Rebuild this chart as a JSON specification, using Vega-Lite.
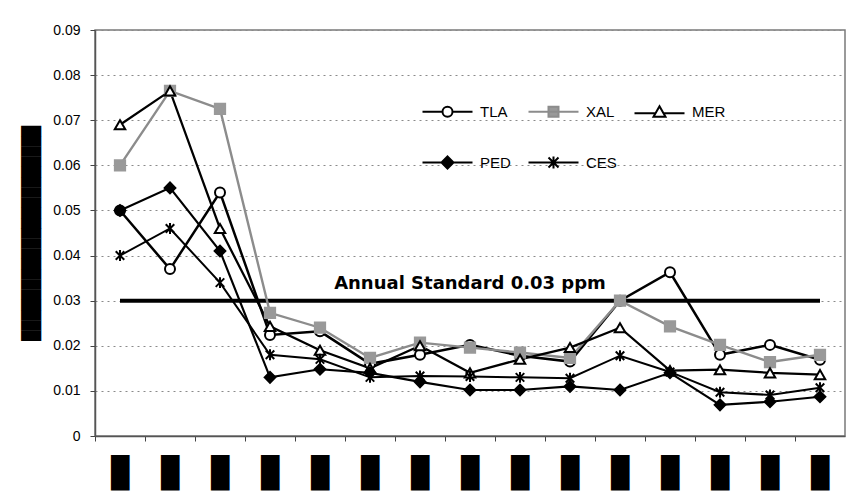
{
  "$schema": "https://vega.github.io/schema/vega-lite/v6.json",
  "autosize": {"type": "none"},
  "width": 750,
  "height": 406,
  "padding": {"left": 95, "top": 30, "right": 19, "bottom": 68},
  "background": "white",
  "config": {
    "view": {"stroke": "#7a7a7a", "strokeWidth": 1.5},
    "font": "Liberation Sans"
  },
  "datasets": {
    "series": [
      {"cat": "1", "series": "TLA", "v": 0.050}, {"cat": "1", "series": "XAL", "v": 0.060}, {"cat": "1", "series": "MER", "v": 0.069}, {"cat": "1", "series": "PED", "v": 0.050}, {"cat": "1", "series": "CES", "v": 0.040},
      {"cat": "2", "series": "TLA", "v": 0.037}, {"cat": "2", "series": "XAL", "v": 0.0765}, {"cat": "2", "series": "MER", "v": 0.0765}, {"cat": "2", "series": "PED", "v": 0.055}, {"cat": "2", "series": "CES", "v": 0.046},
      {"cat": "3", "series": "TLA", "v": 0.054}, {"cat": "3", "series": "XAL", "v": 0.0725}, {"cat": "3", "series": "MER", "v": 0.046}, {"cat": "3", "series": "PED", "v": 0.041}, {"cat": "3", "series": "CES", "v": 0.034},
      {"cat": "4", "series": "TLA", "v": 0.0224}, {"cat": "4", "series": "XAL", "v": 0.0273}, {"cat": "4", "series": "MER", "v": 0.0243}, {"cat": "4", "series": "PED", "v": 0.013}, {"cat": "4", "series": "CES", "v": 0.018},
      {"cat": "5", "series": "TLA", "v": 0.0232}, {"cat": "5", "series": "XAL", "v": 0.024}, {"cat": "5", "series": "MER", "v": 0.019}, {"cat": "5", "series": "PED", "v": 0.0148}, {"cat": "5", "series": "CES", "v": 0.017},
      {"cat": "6", "series": "TLA", "v": 0.016}, {"cat": "6", "series": "XAL", "v": 0.0173}, {"cat": "6", "series": "MER", "v": 0.015}, {"cat": "6", "series": "PED", "v": 0.014}, {"cat": "6", "series": "CES", "v": 0.013},
      {"cat": "7", "series": "TLA", "v": 0.018}, {"cat": "7", "series": "XAL", "v": 0.0207}, {"cat": "7", "series": "MER", "v": 0.020}, {"cat": "7", "series": "PED", "v": 0.012}, {"cat": "7", "series": "CES", "v": 0.0133},
      {"cat": "8", "series": "TLA", "v": 0.0202}, {"cat": "8", "series": "XAL", "v": 0.0196}, {"cat": "8", "series": "MER", "v": 0.014}, {"cat": "8", "series": "PED", "v": 0.0102}, {"cat": "8", "series": "CES", "v": 0.0132},
      {"cat": "9", "series": "TLA", "v": 0.0178}, {"cat": "9", "series": "XAL", "v": 0.0185}, {"cat": "9", "series": "MER", "v": 0.017}, {"cat": "9", "series": "PED", "v": 0.0102}, {"cat": "9", "series": "CES", "v": 0.013},
      {"cat": "10", "series": "TLA", "v": 0.0165}, {"cat": "10", "series": "XAL", "v": 0.0173}, {"cat": "10", "series": "MER", "v": 0.0196}, {"cat": "10", "series": "PED", "v": 0.011}, {"cat": "10", "series": "CES", "v": 0.0128},
      {"cat": "11", "series": "TLA", "v": 0.030}, {"cat": "11", "series": "XAL", "v": 0.030}, {"cat": "11", "series": "MER", "v": 0.024}, {"cat": "11", "series": "PED", "v": 0.0102}, {"cat": "11", "series": "CES", "v": 0.0178},
      {"cat": "12", "series": "TLA", "v": 0.0363}, {"cat": "12", "series": "XAL", "v": 0.0243}, {"cat": "12", "series": "MER", "v": 0.0145}, {"cat": "12", "series": "PED", "v": 0.014}, {"cat": "12", "series": "CES", "v": 0.0142},
      {"cat": "13", "series": "TLA", "v": 0.018}, {"cat": "13", "series": "XAL", "v": 0.0202}, {"cat": "13", "series": "MER", "v": 0.0147}, {"cat": "13", "series": "PED", "v": 0.0069}, {"cat": "13", "series": "CES", "v": 0.0097},
      {"cat": "14", "series": "TLA", "v": 0.0202}, {"cat": "14", "series": "XAL", "v": 0.0164}, {"cat": "14", "series": "MER", "v": 0.014}, {"cat": "14", "series": "PED", "v": 0.0076}, {"cat": "14", "series": "CES", "v": 0.0091},
      {"cat": "15", "series": "TLA", "v": 0.0169}, {"cat": "15", "series": "XAL", "v": 0.018}, {"cat": "15", "series": "MER", "v": 0.0136}, {"cat": "15", "series": "PED", "v": 0.0087}, {"cat": "15", "series": "CES", "v": 0.0107}
    ],
    "keys": [
      {"name": "TLA"}, {"name": "XAL"}, {"name": "MER"}, {"name": "PED"}, {"name": "CES"}
    ],
    "standard": [
      {"cat": "1", "v": 0.03},
      {"cat": "15", "v": 0.03}
    ],
    "note": [
      {"cat": "8", "v": 0.0338, "label": "Annual Standard 0.03 ppm"}
    ]
  },
  "encoding": {
    "x": {
      "field": "cat",
      "type": "nominal",
      "sort": null,
      "scale": {"type": "band", "domain": ["1","2","3","4","5","6","7","8","9","10","11","12","13","14","15"], "paddingInner": 0, "paddingOuter": 0},
      "axis": {
        "title": null,
        "bandPosition": 0,
        "labelExpr": "'█'",
        "labelDx": 25,
        "labelAngle": 0,
        "labelFont": "DejaVu Sans Mono",
        "labelFontSize": 30,
        "labelColor": "black",
        "labelPadding": 17,
        "labelBaseline": "top",
        "tickColor": "#444",
        "tickSize": 5,
        "domainColor": "#555",
        "domainWidth": 1.5,
        "grid": false
      }
    },
    "y": {
      "field": "v",
      "type": "quantitative",
      "scale": {"domain": [0, 0.09], "nice": false, "zero": true},
      "axis": {
        "title": "█████████████████████",
        "titleFont": "DejaVu Sans Mono",
        "titleFontSize": 17,
        "titleFontWeight": "normal",
        "titleColor": "black",
        "titlePadding": 12,
        "values": [0, 0.01, 0.02, 0.03, 0.04, 0.05, 0.06, 0.07, 0.08, 0.09],
        "format": ".2~f",
        "labelFont": "Liberation Sans",
        "labelFontSize": 14,
        "labelColor": "black",
        "labelPadding": 10,
        "tickColor": "#444",
        "tickSize": 5,
        "domainColor": "#555",
        "domainWidth": 1.5,
        "grid": true,
        "gridColor": "#8a8a8a",
        "gridDash": [2, 4],
        "gridWidth": 1
      }
    }
  },
  "layer": [
    {
      "data": {"name": "standard"},
      "mark": {"type": "line", "color": "black", "strokeWidth": 4},
      "encoding": {}
    },
    {
      "data": {"name": "note"},
      "mark": {"type": "text", "font": "DejaVu Sans", "fontSize": 18, "fontWeight": "bold", "color": "black", "align": "center", "baseline": "middle"},
      "encoding": {"text": {"field": "label"}}
    },
    {
      "data": {"name": "series"},
      "mark": {"type": "line"},
      "encoding": {
        "detail": {"field": "series"},
        "color": {"field": "series", "type": "nominal", "legend": null, "scale": {"domain": ["TLA","XAL","MER","PED","CES"], "range": ["black", "#8c8c8c", "black", "black", "black"]}},
        "strokeWidth": {"field": "series", "type": "nominal", "legend": null, "scale": {"domain": ["TLA","XAL","MER","PED","CES"], "range": [2.5, 2, 2.5, 2.5, 2.5]}}
      }
    },
    {
      "data": {"name": "series"},
      "mark": {"type": "point", "strokeWidth": 2, "opacity": 1},
      "encoding": {
        "shape": {"field": "series", "type": "nominal", "legend": null,
          "scale": {"domain": ["TLA","XAL","MER","PED","CES"], "range": ["circle", "square", "triangle-up", "diamond", "M 0 -1 L 0 1 M -0.78 -0.78 L 0.78 0.78 M -0.78 0.78 L 0.78 -0.78"]}},
        "fill": {"field": "series", "type": "nominal", "legend": null, "scale": {"domain": ["TLA","XAL","MER","PED","CES"], "range": ["white", "#999999", "white", "black", "transparent"]}},
        "stroke": {"field": "series", "type": "nominal", "legend": null, "scale": {"domain": ["TLA","XAL","MER","PED","CES"], "range": ["black", "#999999", "black", "black", "black"]}},
        "size": {"field": "series", "type": "nominal", "legend": null, "scale": {"domain": ["TLA","XAL","MER","PED","CES"], "range": [100, 120, 130, 150, 170]}}
      }
    },
    {
      "data": {"name": "keys"},
      "mark": {"type": "point", "strokeWidth": 2, "opacity": 1},
      "encoding": {
        "shape": {"field": "name", "type": "nominal",
          "scale": {"domain": ["TLA","XAL","MER","PED","CES"], "range": [
            "M -5 0 L -1 0 M 1 0 L 5 0 M 1 0 A 1 1 0 1 1 -1 0 A 1 1 0 1 1 1 0",
            "M -5 0 L 5 0 M -1 -1 L 1 -1 L 1 1 L -1 1 Z",
            "M -5 0.3 L -0.75 0.3 M 0.75 0.3 L 5 0.3 M 0 -1.1 L 1.2 1 L -1.2 1 Z",
            "M -5 0 L 5 0 M 0 -1.2 L 1.2 0 L 0 1.2 L -1.2 0 Z",
            "M -5 0 L 5 0 M 0 -1.2 L 0 1.2 M -1 -1 L 1 1 M -1 1 L 1 -1"]},
          "legend": {"title": null, "orient": "none", "legendX": 345, "legendY": 74, "direction": "horizontal", "columns": 3, "padding": 0, "columnPadding": 13, "rowPadding": 31, "symbolSize": 100, "symbolStrokeWidth": 2, "symbolOpacity": 1, "labelOffset": 25, "labelFont": "Liberation Sans", "labelFontSize": 15, "labelColor": "black"}},
        "fill": {"field": "name", "type": "nominal", "scale": {"domain": ["TLA","XAL","MER","PED","CES"], "range": ["white", "#999999", "white", "black", "transparent"]},
          "legend": {"title": null, "orient": "none", "legendX": 345, "legendY": 74, "direction": "horizontal", "columns": 3, "padding": 0, "columnPadding": 13, "rowPadding": 31, "symbolSize": 100, "symbolStrokeWidth": 2, "symbolOpacity": 1, "labelOffset": 25, "labelFont": "Liberation Sans", "labelFontSize": 15, "labelColor": "black"}},
        "stroke": {"field": "name", "type": "nominal", "scale": {"domain": ["TLA","XAL","MER","PED","CES"], "range": ["black", "#8c8c8c", "black", "black", "black"]},
          "legend": {"title": null, "orient": "none", "legendX": 345, "legendY": 74, "direction": "horizontal", "columns": 3, "padding": 0, "columnPadding": 13, "rowPadding": 31, "symbolSize": 100, "symbolStrokeWidth": 2, "symbolOpacity": 1, "labelOffset": 25, "labelFont": "Liberation Sans", "labelFontSize": 15, "labelColor": "black"}}
      }
    }
  ],
  "resolve": {"scale": {"shape": "independent", "fill": "independent", "stroke": "independent"}}
}
